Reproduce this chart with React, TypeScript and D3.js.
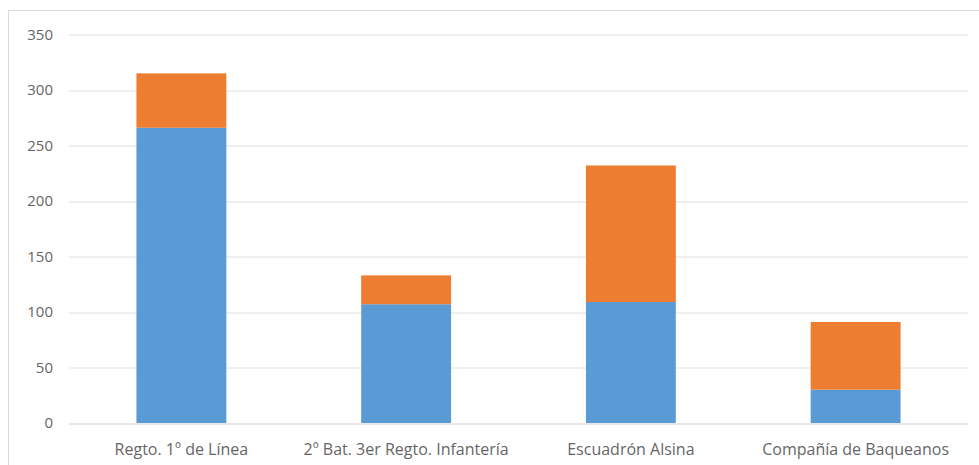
import React, { useEffect, useRef } from 'react';
import * as d3 from 'd3';

const categories = [
  'Regto. 1º de Línea',
  '2º Bat. 3er Regto. Infantería',
  'Escuadrón Alsina',
  'Compañía de Baqueanos',
];
const blueValues = [266, 107, 109, 30];
const orangeValues = [49, 26, 123, 61];
const yTicks = [0, 50, 100, 150, 200, 250, 300, 350];

const width = 979;
const height = 465;

export default function App() {
  const svgRef = useRef<SVGSVGElement>(null);

  useEffect(() => {
    const svg = d3.select(svgRef.current);
    svg.selectAll('*').remove();

    const margin = { top: 34.5, right: 11, bottom: 42, left: 69 };
    const innerWidth = width - margin.left - margin.right;
    const innerHeight = height - margin.top - margin.bottom;

    // chart border (only top/left visible in the crop)
    svg.append('rect')
      .attr('x', 8.5)
      .attr('y', 10.5)
      .attr('width', 1000)
      .attr('height', 1000)
      .style('fill', 'white')
      .style('stroke', '#d9d9d9')
      .style('stroke-width', 1);

    const g = svg.append('g')
      .attr('transform', `translate(${margin.left},${margin.top})`);

    const x = d3.scaleBand<string>()
      .domain(categories)
      .range([0, innerWidth])
      .paddingInner(0.6)
      .paddingOuter(0.3);

    const y = d3.scaleLinear().domain([0, 350]).range([innerHeight, 0]);

    // Grid lines
    g.selectAll('.grid')
      .data(yTicks)
      .enter()
      .append('line')
      .attr('x1', 0)
      .attr('x2', innerWidth)
      .attr('y1', d => Math.round(y(d)) + 0.5)
      .attr('y2', d => Math.round(y(d)) + 0.5)
      .style('stroke', d => (d === 0 ? '#d0d0d0' : '#e0e0e0'))
      .style('stroke-width', 1);

    const stacked = categories.map((c, i) => ({
      cat: c,
      blue: blueValues[i],
      orange: orangeValues[i],
    }));

    const series = d3.stack<typeof stacked[0]>().keys(['blue', 'orange'])(stacked);
    const colors: Record<string, string> = { blue: '#5b9bd5', orange: '#ed7d31' };

    g.selectAll('.series')
      .data(series)
      .enter()
      .append('g')
      .style('fill', d => colors[d.key])
      .selectAll('rect')
      .data(d => d)
      .enter()
      .append('rect')
      .attr('x', d => x(d.data.cat) as number)
      .attr('width', x.bandwidth())
      .attr('y', d => y(d[1]))
      .attr('height', d => y(d[0]) - y(d[1]));

    // Y labels
    g.selectAll('.ylab')
      .data(yTicks)
      .enter()
      .append('text')
      .attr('x', -16)
      .attr('y', d => y(d))
      .attr('dy', '0.35em')
      .attr('text-anchor', 'end')
      .style('font-family', '"Open Sans", sans-serif')
      .style('font-size', '15px')
      .style('fill', '#666666')
      .text(d => d);

    // X labels
    g.selectAll('.xlab')
      .data(categories)
      .enter()
      .append('text')
      .attr('x', d => (x(d) as number) + x.bandwidth() / 2)
      .attr('y', innerHeight + 26)
      .attr('dy', '0.35em')
      .attr('text-anchor', 'middle')
      .style('font-family', '"Open Sans", sans-serif')
      .style('font-size', '16px')
      .style('fill', '#666666')
      .text(d => d);
  }, []);

  return (
    <svg
      ref={svgRef}
      width={width}
      height={height}
      style={{ position: 'absolute', left: 0, top: 0, background: 'white' }}
    />
  );
}
